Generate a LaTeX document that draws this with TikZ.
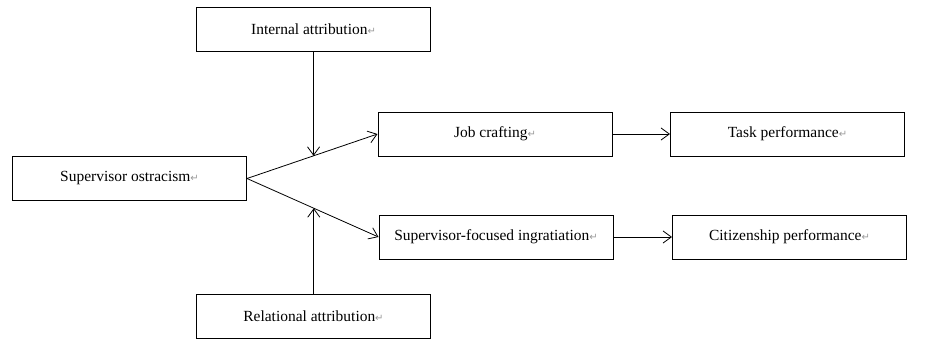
\documentclass[tikz,border=0pt]{standalone}
\usepackage{fontspec}
\setmainfont{Liberation Serif}
\newfontfamily\markfont{DejaVu Sans}
\usepackage{xcolor}
\usetikzlibrary{arrows.meta, positioning, calc}

\newcommand{\retmark}{{\markfont\fontsize{7.5}{8}\selectfont\color{gray!80}↵}}

\begin{document}
\begin{tikzpicture}[
    x=0.75pt, y=-0.75pt,
    varbox/.style={rectangle, draw, line width=0.75pt, minimum width=175.5pt, minimum height=33pt, align=center, font=\fontsize{11.6}{13}\selectfont, inner sep=0pt},
    arr/.style={-{Straight Barb[length=2.2mm, width=3.2mm]}, line width=0.6pt}
]
\useasboundingbox (0,0) rectangle (930,354);

% Antecedent and mediators
\node[varbox] (so) at (129.5,178.5) {Supervisor ostracism\retmark};
\node[varbox] (jc) at (495,134) {Job crafting\retmark};
\node[varbox] (sfi) at (496,237) {Supervisor-focused ingratiation\retmark};

% Outcomes
\node[varbox] (tp) at (787.5,134) {Task performance\retmark};
\node[varbox] (cp) at (789.5,237) {Citizenship performance\retmark};

% Moderators
\node[varbox] (ia) at (313.5,29.5) {Internal attribution\retmark};
\node[varbox] (ra) at (313.5,316.5) {Relational attribution\retmark};

\draw[arr] (so.east) -- (jc.west);
\draw[arr] (so.east) -- (sfi.west);
\draw[arr] (jc) -- (tp);
\draw[arr] (sfi) -- (cp);

\coordinate (m1) at ($(so.east)!0.51!(jc.west)$);
\coordinate (m2) at ($(so.east)!0.508!(sfi.west)$);
\draw[arr] (ia.south -| m1) -- (m1);
\draw[arr] (ra.north -| m2) -- (m2);

\end{tikzpicture}
\end{document}
